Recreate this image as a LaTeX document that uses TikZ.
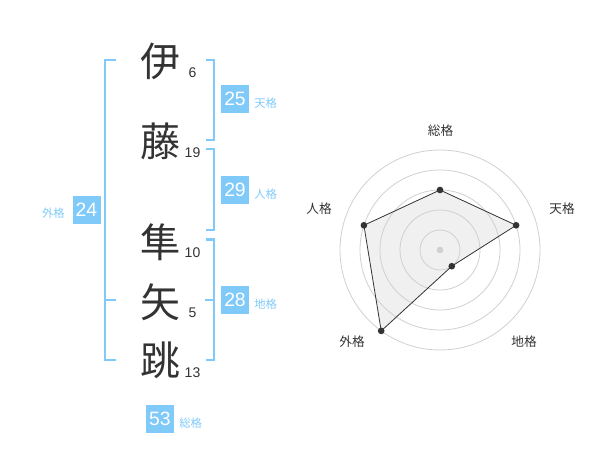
\documentclass[tikz,border=0pt]{standalone}
\usepackage{fontspec}
\setmainfont{Liberation Sans}
\newfontfamily\jpfont{Noto Sans CJK JP}
\definecolor{kakublue}{RGB}{128,202,250}
\definecolor{inkgray}{RGB}{51,51,51}
\definecolor{ringgray}{RGB}{208,208,208}
\definecolor{areagray}{RGB}{240,240,240}
\begin{document}
\begin{tikzpicture}[x=0.75pt,y=0.75pt,yscale=-1,xscale=1,
        kanji/.style={inner sep=0pt,text=inkgray,font=\jpfont\fontsize{30}{30}\selectfont},
        strokes/.style={inner sep=0pt,text=inkgray,font=\fontsize{10.5}{12}\selectfont},
        kakubox/.style={fill=kakublue,text=white,minimum width=21pt,minimum height=21pt,inner sep=0pt,font=\fontsize{14.5}{15}\selectfont},
        kakulabel/.style={inner sep=0pt,text=kakublue,font=\jpfont\fontsize{8.5}{9}\selectfont},
        bracket/.style={draw=kakublue,line width=1.6pt},
        ring/.style={draw=ringgray,line width=0.6pt},
        axislabel/.style={inner sep=0pt,text=inkgray,font=\jpfont\fontsize{9.5}{10}\selectfont},
        dot/.style={circle,fill=inkgray,inner sep=0pt,minimum size=5pt}]
        \path[use as bounding box] (0,0) rectangle (600,470);

        % Name characters
        \node[kanji] (c1) at (160,61) {伊};
        \node[kanji] (c2) at (160,141) {藤};
        \node[kanji] (c3) at (160,242) {隼};
        \node[kanji] (c4) at (160,302) {矢};
        \node[kanji] (c5) at (160,360) {跳};
        % Stroke counts
        \node[strokes] (s1) at (192.5,72.5) {6};
        \node[strokes] (s2) at (192.5,152.5) {19};
        \node[strokes] (s3) at (192.5,252.5) {10};
        \node[strokes] (s4) at (192.5,313) {5};
        \node[strokes] (s5) at (192.5,372.5) {13};

        % Brackets
        \draw[bracket] (206,60) -- (214,60) -- (214,140) -- (206,140);
        \draw[bracket] (206,149) -- (214,149) -- (214,230) -- (206,230);
        \draw[bracket] (206,239.5) -- (214,239.5) -- (214,360) -- (206,360);
        \draw[bracket] (205,300) -- (214,300);
        \draw[bracket] (116,60) -- (105,60) -- (105,360) -- (116,360);
        \draw[bracket] (105,300) -- (116,300);

        % Boxes and labels
        \node[kakubox] (ten) at (235,99) {25};
        \node[kakulabel,anchor=west] (tenl) at (254,103.5) {天格};
        \node[kakubox] (jin) at (235,190) {29};
        \node[kakulabel,anchor=west] (jinl) at (254,194.5) {人格};
        \node[kakubox] (chi) at (235,300) {28};
        \node[kakulabel,anchor=west] (chil) at (254,304.5) {地格};
        \node[kakubox] (gai) at (86.5,210) {24};
        \node[kakulabel,anchor=east] (gail) at (65,213.5) {外格};
        \node[kakubox] (sou) at (160,419) {53};
        \node[kakulabel,anchor=west] (soul) at (179,423.5) {総格};

        % Radar chart
        \coordinate (center) at (440,250);
        \coordinate (psou) at (440,190);
        \coordinate (pten) at (516.1,225.3);
        \coordinate (pchi) at (451.8,266.2);
        \coordinate (pgai) at (381.2,330.9);
        \coordinate (pjin) at (363.9,225.3);
        \fill[areagray] (psou) -- (pten) -- (pchi) -- (pgai) -- (pjin) -- cycle;
        \draw[ring] (center) circle (20);
        \draw[ring] (center) circle (40);
        \draw[ring] (center) circle (60);
        \draw[ring] (center) circle (80);
        \draw[ring] (center) circle (100);
        \draw[inkgray,line width=0.6pt] (psou) -- (pten) -- (pchi) -- (pgai) -- (pjin) -- cycle;
        \node[dot,fill=ringgray] (mid) at (center) {};
        \node[dot] (dsou) at (psou) {};
        \node[dot] (dten) at (pten) {};
        \node[dot] (dchi) at (pchi) {};
        \node[dot] (dgai) at (pgai) {};
        \node[dot] (djin) at (pjin) {};

        % Axis labels
        \node[axislabel] (asou) at (440.5,130.5) {総格};
        \node[axislabel] (aten) at (562,209) {天格};
        \node[axislabel] (achi) at (524,342) {地格};
        \node[axislabel] (agai) at (352,342) {外格};
        \node[axislabel] (ajin) at (319,209) {人格};
\end{tikzpicture}
\end{document}
